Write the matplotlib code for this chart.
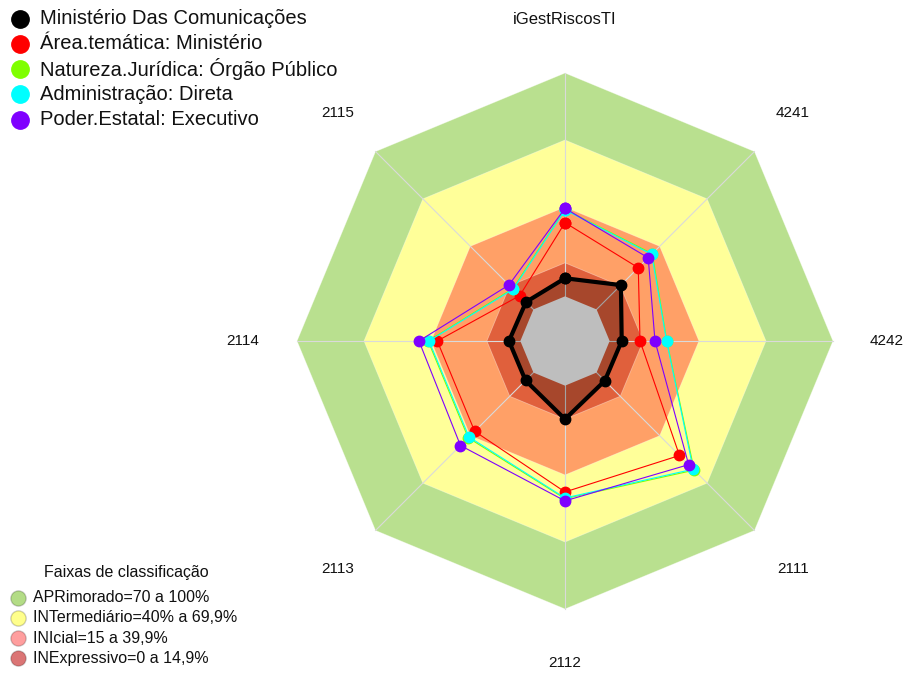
import matplotlib.pyplot as plt
import numpy as np

plt.rcParams['font.family'] = ['Liberation Sans', 'DejaVu Sans']

# eixos do radar, sentido horario a partir do topo
eixos = ['iGestRiscosTI', '4241', '4242', '2111', '2112', '2113', '2114', '2115']

ministerio = [8.1, 15.4, 5.4, 5.2, 15.0, 5.0, 5.1, 4.7]
area_tematica = [33.0, 26.4, 13.6, 52.5, 47.6, 37.2, 37.2, 8.7]
natureza_juridica = [38.9, 35.3, 25.6, 61.8, 50.6, 41.3, 41.3, 13.1]
administracao = [38.7, 34.9, 25.5, 61.2, 50.3, 40.8, 40.9, 12.8]
poder_estatal = [39.4, 32.7, 20.3, 58.3, 51.6, 46.2, 45.4, 15.5]

nomes = ['Ministério Das Comunicações', 'Área.temática: Ministério',
         'Natureza.Jurídica: Órgão Público', 'Administração: Direta',
         'Poder.Estatal: Executivo']
cores = ['black', '#FF0000', '#7FFF00', '#00FFFF', '#7F00FF']

faixas_lim = [100, 70, 40, 15]
faixas_cor = ['#B9E08F', '#FFFF99', '#FFA067', '#E0603C']
faixas_leg = ['#B3DC86', '#FFFF8C', '#FF9E9E', '#DB7575']
faixas_txt = ['APRimorado=70 a 100%', 'INTermediário=40% a 69,9%',
              'INIcial=15 a 39,9%', 'INExpressivo=0 a 14,9%']

W, H = 909, 675
CX, CY = 565, 341      # centro do radar em pixels
ESC = 2.233            # pixels por unidade
GAP = 20               # o zero fica afastado do centro

ang = np.deg2rad(90 - 45 * np.arange(len(eixos)))


def poligono(vals):
    r = np.asarray(vals, dtype=float) + GAP
    x, y = r * np.cos(ang), r * np.sin(ang)
    return np.append(x, x[0]), np.append(y, y[0])


fig = plt.figure(figsize=(W / 100, H / 100), dpi=100)
ax = fig.add_axes([0, 0, 1, 1])
ax.set_xlim(-CX / ESC, (W - CX) / ESC)
ax.set_ylim(-(H - CY) / ESC, CY / ESC)
ax.axis('off')

# faixas de classificacao
for lim, c in zip(faixas_lim, faixas_cor):
    ax.fill(*poligono([lim] * 8), color=c, lw=0.6, ec='#FFFFFF60', zorder=1)

rmax = 100 + GAP
for a in ang:
    ax.plot([0, rmax * np.cos(a)], [0, rmax * np.sin(a)], color='#DADADA', lw=0.8, zorder=2)

# preenchimento da serie principal e miolo cinza
ax.fill(*poligono(ministerio), color='black', alpha=0.25, lw=0, zorder=3)
ax.fill(*poligono([0] * 8), color='#BEBEBE', lw=0, zorder=4)

series = [ministerio, area_tematica, natureza_juridica, administracao, poder_estatal]
for i, (vals, c) in enumerate(zip(series, cores)):
    x, y = poligono(vals)
    if i == 0:
        ax.plot(x, y, color=c, lw=3, marker='o', ms=7.5, zorder=10)
    else:
        ax.plot(x, y, color=c, lw=0.8, marker='o', ms=7.5, zorder=5 + i)

rl = 322 / ESC
for nome, a in zip(eixos, ang):
    ax.text(rl * np.cos(a), rl * np.sin(a), nome, ha='center', va='center',
            fontsize=12 if nome == eixos[0] else 11, color='#111111')


def px(x, y):
    return x / W, 1 - y / H


# legenda das series
for i, (nome, c) in enumerate(zip(nomes, cores)):
    yy = 18.5 + 25.3 * i
    ax.plot(*px(20, yy), 'o', color=c, ms=12.5, transform=ax.transAxes, clip_on=False)
    ax.text(*px(40, yy), nome, fontsize=14.5, va='center', ha='left',
            transform=ax.transAxes, color='#111111')

# legenda das faixas
ax.text(*px(126, 572), 'Faixas de classificação', fontsize=11.5, ha='center',
        va='center', transform=ax.transAxes, color='#111111')
for i, (txt, c) in enumerate(zip(faixas_txt, faixas_leg)):
    yy = 597.5 + 20.3 * i
    ax.plot(*px(17.5, yy), 'o', color=c, mec='#00000030', ms=11, transform=ax.transAxes)
    ax.text(*px(33, yy), txt, fontsize=11.5, va='center', ha='left',
            transform=ax.transAxes, color='#111111')

fig.savefig('out.png', dpi=100)
